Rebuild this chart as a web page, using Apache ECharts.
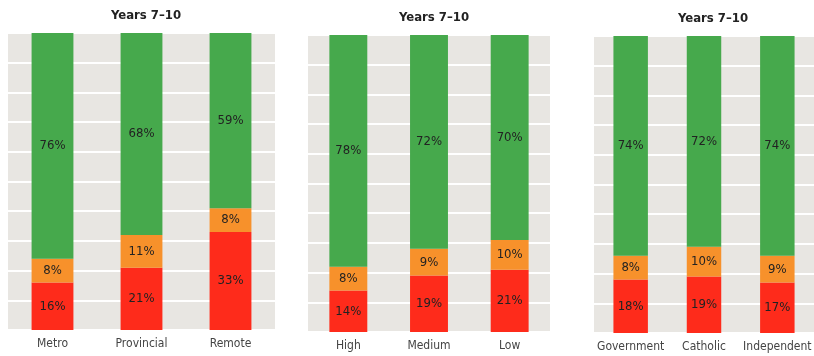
<!DOCTYPE html>
<html>
<head>
<meta charset="utf-8">
<script src="https://cdn.jsdelivr.net/npm/echarts@6/dist/echarts.min.js"></script>
<style>
  html, body { margin: 0; padding: 0; background: #fff; }
  #chart { width: 814px; height: 356px; }
</style>
</head>
<body>
<div id="chart"></div>
<script>
  // values (per cent of students)
  var titleText = "Years 7–10";

  var locationCats = ["Metro", "Provincial", "Remote"];
  var locationRed = [16, 21, 33];
  var locationOrange = [8, 11, 8];
  var locationGreen = [76, 68, 59];

  var sesCats = ["High", "Medium", "Low"];
  var sesRed = [14, 19, 21];
  var sesOrange = [8, 9, 10];
  var sesGreen = [78, 72, 70];

  var sectorCats = ["Government", "Catholic", "Independent"];
  var sectorRed = [18, 19, 17];
  var sectorOrange = [8, 10, 9];
  var sectorGreen = [74, 72, 74];

  var font = "'Liberation Sans Narrow', 'DejaVu Sans Condensed', sans-serif";
  var colors = { red: "#fe2b1b", orange: "#f7912b", green: "#46a94c" };

  var grids = [
    { left: 8, top: 33, width: 267, height: 297 },
    { left: 308, top: 35, width: 242, height: 297 },
    { left: 594, top: 36, width: 227, height: 297 }
  ];
  var cats = [locationCats, sesCats, sectorCats];
  var stacks = [
    [locationRed, locationOrange, locationGreen],
    [sesRed, sesOrange, sesGreen],
    [sectorRed, sectorOrange, sectorGreen]
  ];
  var titleX = [141, 429, 708];
  var titleY = [4, 6, 7];

  var option = {
    animation: false,
    title: [],
    grid: [],
    xAxis: [],
    yAxis: [],
    series: []
  };

  for (var i = 0; i < 3; i++) {
    option.title.push({
      text: titleText,
      left: titleX[i],
      top: titleY[i],
      textAlign: "center",
      textStyle: { fontFamily: font, fontSize: 13, fontWeight: "bold", color: "#222" }
    });
    option.grid.push({
      left: grids[i].left,
      top: grids[i].top,
      width: grids[i].width,
      height: grids[i].height,
      show: true,
      backgroundColor: "#e8e6e2",
      borderWidth: 0
    });
    option.xAxis.push({
      type: "category",
      gridIndex: i,
      data: cats[i],
      axisLine: { show: false },
      axisTick: { show: false },
      axisLabel: { interval: 0, fontFamily: font, fontSize: 12, color: "#444", margin: 8 }
    });
    option.yAxis.push({
      type: "value",
      gridIndex: i,
      min: 0,
      max: 100,
      interval: 10,
      axisLine: { show: false },
      axisTick: { show: false },
      axisLabel: { show: false },
      splitLine: { lineStyle: { color: "#ffffff", width: 2 } }
    });
    var names = ["red", "orange", "green"];
    for (var j = 0; j < 3; j++) {
      option.series.push({
        type: "bar",
        xAxisIndex: i,
        yAxisIndex: i,
        stack: "s" + i,
        barWidth: "47%",
        data: stacks[i][j],
        itemStyle: { color: colors[names[j]] },
        label: {
          show: true,
          position: "inside",
          formatter: "{c}%",
          fontFamily: font,
          fontSize: 13,
          color: "#222"
        }
      });
    }
  }

  var chart = echarts.init(document.getElementById("chart"));
  chart.setOption(option);
</script>
</body>
</html>
